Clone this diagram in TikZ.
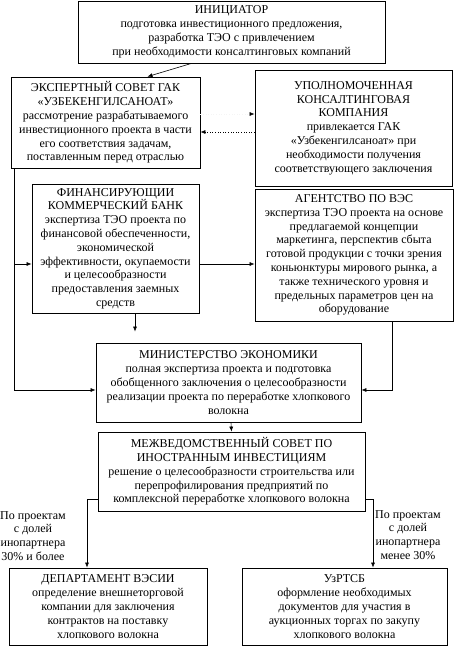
\documentclass[tikz,border=0pt]{standalone}
\usepackage{fontspec}
\setmainfont{Liberation Serif}
\usetikzlibrary{arrows.meta}

\begin{document}
\begin{tikzpicture}[x=1pt,y=-1pt,
  box/.style={draw, line width=0.8pt, rectangle, align=center, inner sep=1pt,
    font=\fontsize{12}{13.8}\selectfont},
  arr/.style={-{Latex[length=5pt,width=4pt]}, line width=0.6pt},
  note/.style={align=center, inner sep=0pt, font=\fontsize{12}{13.8}\selectfont}]
\useasboundingbox (0,0) rectangle (454,646);

\node (init) at (231.5,32) [box, minimum width=307pt, minimum height=62pt]
  {ИНИЦИАТОР\\ подготовка инвестиционного предложения,\\ разработка ТЭО с привлечением\\ при необходимости консалтинговых компаний};
\node (expert) at (105.5,122.5) [box, minimum width=189pt, minimum height=91pt]
  {ЭКСПЕРТНЫЙ СОВЕТ ГАК\\ «УЗБЕКЕНГИЛСАНОАТ»\\ рассмотрение разрабатываемого\\ инвестиционного проекта в части\\ его соответствия задачам,\\ поставленным перед отраслью};
\node (company) at (353.5,128) [box, minimum width=197pt, minimum height=116pt]
  {УПОЛНОМОЧЕННАЯ\\ КОНСАЛТИНГОВАЯ\\ КОМПАНИЯ\\ привлекается ГАК\\ «Узбекенгилсаноат» при\\ необходимости получения\\ соответствующего заключения};
\node (bank) at (115.5,248.5) [box, minimum width=167pt, minimum height=129pt]
  {ФИНАНСИРУЮЩИИ\\ КОММЕРЧЕСКИЙ БАНК\\ экспертиза ТЭО проекта по\\ финансовой обеспеченности,\\ экономической\\ эффективности, окупаемости\\ и целесообразности\\ предоставления заемных\\ средств};
\node (agency) at (354,255) [box, minimum width=198pt, minimum height=132pt]
  {АГЕНТСТВО ПО ВЭС\\ экспертиза ТЭО проекта на основе\\ предлагаемой концепции\\ маркетинга, перспектив сбыта\\ готовой продукции с точки зрения\\ коньюнктуры мирового рынка, а\\ также технического уровня и\\ предельных параметров цен на\\ оборудование};
\node (ministry) at (228.5,382.5) [box, minimum width=265pt, minimum height=79pt]
  {МИНИСТЕРСТВО ЭКОНОМИКИ\\ полная экспертиза проекта и подготовка\\ обобщенного заключения о целесообразности\\ реализации проекта по переработке хлопкового\\ волокна};
\node (council) at (231.5,471.5) [box, minimum width=267pt, minimum height=79pt]
  {МЕЖВЕДОМСТВЕННЫЙ СОВЕТ ПО\\ ИНОСТРАННЫМ ИНВЕСТИЦИЯМ\\ решение о целесообразности строительства или\\ перепрофилирования предприятий по\\ комплексной переработке хлопкового волокна};
\node (dept) at (108,606.5) [box, minimum width=198pt, minimum height=77pt]
  {ДЕПАРТАМЕНТ ВЭСИИ\\ определение внешнеторговой\\ компании для заключения\\ контрактов на поставку\\ хлопкового волокна};
\node (uzrtsb) at (344.5,606.5) [box, minimum width=205pt, minimum height=77pt]
  {УзРТСБ\\ оформление необходимых\\ документов для участия в\\ аукционных торгах по закупу\\ хлопкового волокна};

\node (left note) at (33,536) [note] {По проектам\\ с долей\\ инопартнера\\ 30\% и более};
\node (right note) at (408,535) [note] {По проектам\\ с долей\\ инопартнера\\ менее 30\%};

% top part
\draw[arr] ([xshift=-40pt]init.south) -- ([xshift=42pt]expert.north);
\draw[arr, dotted] ([yshift=-4pt]company.west) -- ([yshift=-9.5pt]expert.east);
\draw[arr, dotted, gray!8, -{Latex[length=5pt,width=4pt,color=black]}]
  ([yshift=8.5pt]expert.east) -- ([yshift=14pt]company.west);

% left trunk down to the ministry
\coordinate (trunk) at ([xshift=4pt]expert.south west);
\coordinate (bank in) at ([yshift=-15.5pt]bank.west);
\draw[arr] (trunk) |- ([yshift=-7.5pt]ministry.west);
\draw[arr] (bank in -| trunk) -- (bank in);
\draw[arr] ([yshift=-15.5pt]bank.east) -- ([yshift=-9pt]agency.west);
\coordinate (bank end) at ([xshift=-93.5pt,yshift=11pt]ministry.north);
\draw[arr] ([xshift=19.5pt]bank.south) -- (bank end);
\draw[arr] ([xshift=38pt]agency.south) |- ([yshift=-7.5pt]ministry.east);

% lower part
\draw[arr] ([xshift=2.5pt]ministry.south) -- (council.north);
\draw[arr] ([yshift=-27.5pt]council.west) -| ([xshift=-21pt]dept.north);
\draw[arr] ([yshift=-27.5pt]council.east) -| ([xshift=28.5pt]uzrtsb.north);
\end{tikzpicture}
\end{document}
